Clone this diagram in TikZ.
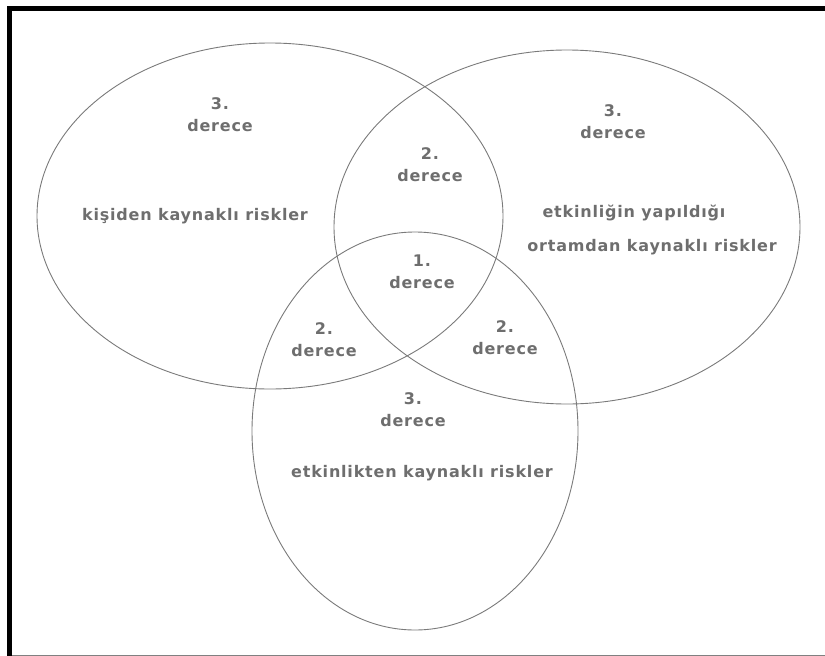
\documentclass[tikz,border=0pt]{standalone}
\usepackage{fontspec}
\setmainfont{DejaVu Sans}
\usetikzlibrary{positioning}
\definecolor{inkgray}{HTML}{6E6E6E}
\definecolor{linegray}{HTML}{7A7A7A}
\newcommand\widetext{\addfontfeature{LetterSpace=5}}
\begin{document}
\begin{tikzpicture}[x=1pt,y=-1pt,
  lbl/.style={font=\bfseries\fontsize{16}{22}\selectfont\widetext,text=inkgray,inner sep=1pt,align=center},
  risk/.style={font=\bfseries\fontsize{16}{18}\selectfont\widetext,text=inkgray,inner sep=1pt},
  ring/.style={draw=linegray,line width=0.9pt},
  frame/.style={line width=5pt,draw=black}]
\useasboundingbox (0,0) rectangle (825,656);
% ---- frame
\draw[frame] (9.5,656) -- (9.5,8.5) -- (825,8.5);
\draw[draw=gray,line width=1pt] (12,655.5) -- (825,655.5);
% ---- three sets
\draw[ring] (270,216) ellipse [x radius=233,y radius=173];
\draw[ring] (567,227) ellipse [x radius=233,y radius=177];
\draw[ring] (415,431) ellipse [x radius=163,y radius=199];
% ---- degree labels
\node[lbl] (d3kisi) at (220,115) {3.\\ derece};
\node[lbl] (d3ortam) at (613,122) {3.\\ derece};
\node[lbl] (d3etk) at (413,410) {3.\\ derece};
\node[lbl] (d2ust) at (430,165) {2.\\ derece};
\node[lbl] (d2sol) at (324,340) {2.\\ derece};
\node[lbl] (d2sag) at (505,338) {2.\\ derece};
\node[lbl] (d1) at (422,272) {1.\\ derece};
% ---- risk sources
\node[risk] (kisi) at (195,216) {kişiden kaynaklı riskler};
\node[risk] (ortam1) at (634,213) {etkinliğin yapıldığı};
\node[risk] (ortam2) at (652,247) {ortamdan kaynaklı riskler};
\node[risk] (etk) at (422,473) {etkinlikten kaynaklı riskler};
\end{tikzpicture}
\end{document}
